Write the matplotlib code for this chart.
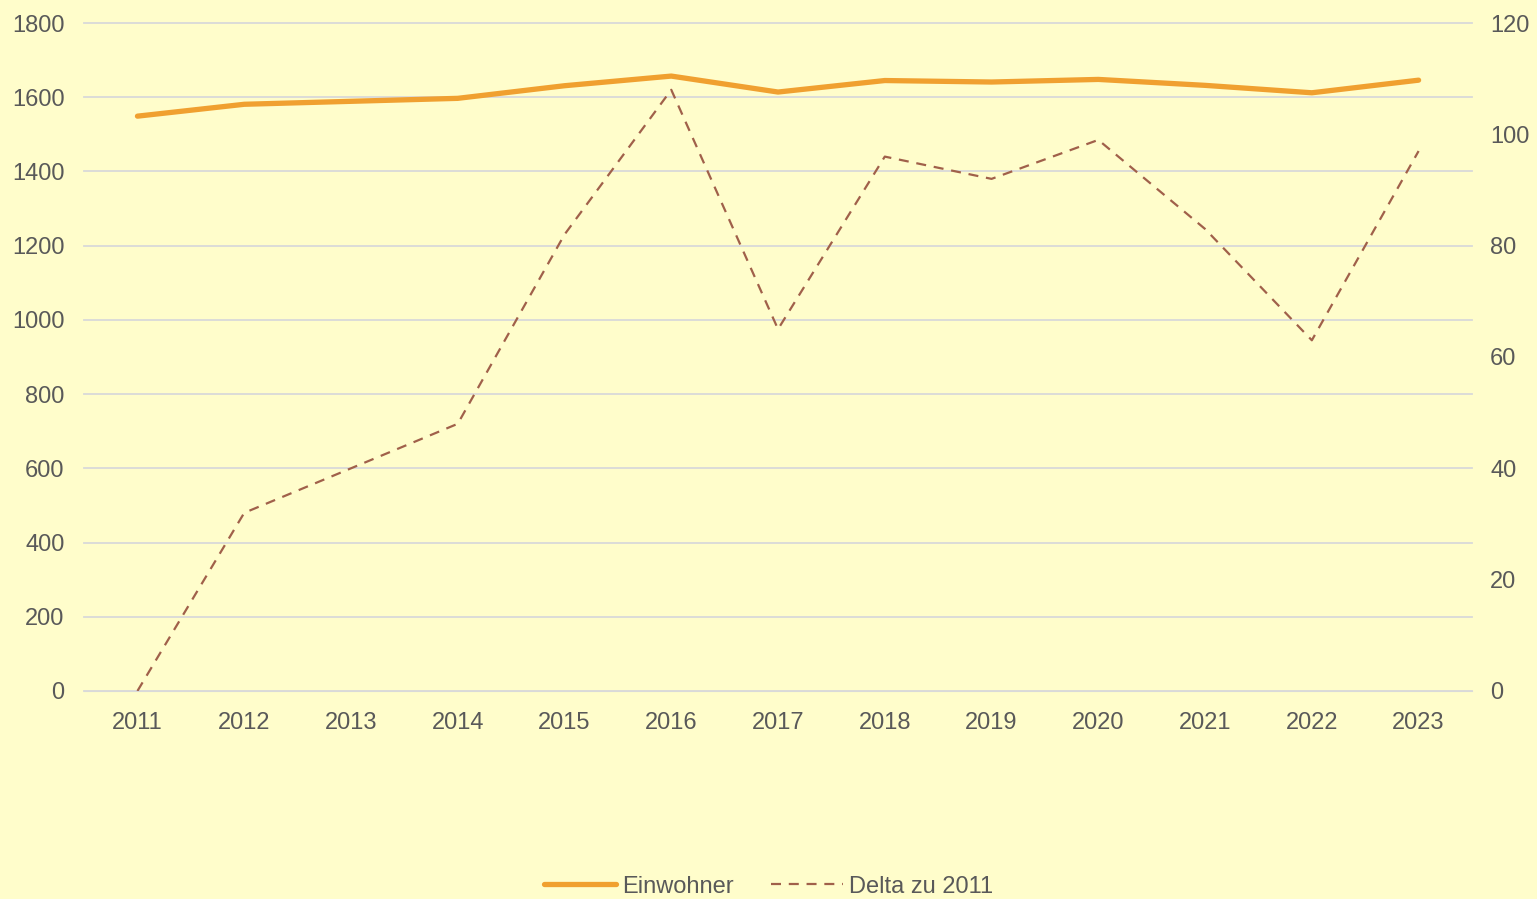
import matplotlib.pyplot as plt
import numpy as np

years = ['2011', '2012', '2013', '2014', '2015', '2016', '2017',
         '2018', '2019', '2020', '2021', '2022', '2023']
einwohner = [1549, 1581, 1589, 1597, 1631, 1657, 1614, 1645, 1641, 1648, 1632, 1612, 1646]
delta = [0, 32, 40, 48, 82, 108, 65, 96, 92, 99, 83, 63, 97]

bg = '#FFFDCB'
txt = '#595959'

plt.rcParams['font.family'] = ['Liberation Sans', 'DejaVu Sans']
plt.rcParams.update({'font.size': 17})

fig = plt.figure(figsize=(15.37, 8.99), dpi=100, facecolor=bg)
ax = fig.add_axes([0.0547, 0.2314, 0.9030, 0.7430], facecolor=bg)
ax2 = ax.twinx()

x = np.arange(len(years))
l1, = ax.plot(x, einwohner, color='#F0A030', lw=3.8, solid_capstyle='round',
              solid_joinstyle='round', label='Einwohner', zorder=3)
l2, = ax2.plot(x, delta, color='#A0604A', lw=1.6, ls=(0, (4.5, 3.5)),
               label='Delta zu 2011')

ax.set_xlim(-0.5, len(years) - 0.5)
ax.set_ylim(0, 1800)
ax.set_yticks(np.arange(0, 1801, 200))
ax2.set_ylim(0, 120)
ax2.set_yticks(np.arange(0, 121, 20))
ax.set_xticks(x)
ax.set_xticklabels(years)

ax.grid(axis='y', color='#D9D9D9', lw=1.3)
for g in ax.get_ygridlines():
    g.set_clip_on(False)
ax.set_axisbelow(True)
for a in (ax, ax2):
    for s in a.spines.values():
        s.set_visible(False)
    a.tick_params(length=0, colors=txt, labelsize=17)
ax.tick_params(axis='x', pad=15)
ax.tick_params(axis='y', pad=14)
ax2.tick_params(axis='y', pad=13)
ax.spines['bottom'].set_visible(True)
ax.spines['bottom'].set_color('#D9D9D9')

fig.legend(handles=[l1, l2], loc='lower center', bbox_to_anchor=(0.5, -0.022),
           ncol=2, frameon=False, fontsize=17, labelcolor=txt,
           handlelength=3.05, handletextpad=0.25, columnspacing=1.6)

plt.savefig('out.png', dpi=100, facecolor=bg)
